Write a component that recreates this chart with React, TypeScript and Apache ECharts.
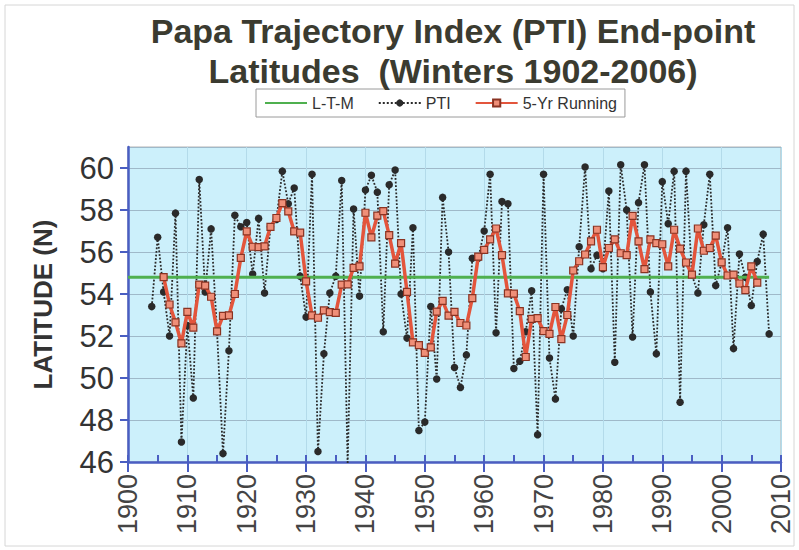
import React, { useEffect, useRef } from "react";
import * as echarts from "echarts";

const TITLE = "Papa Trajectory Index (PTI) End-point\nLatitudes  (Winters 1902-2006)";
const Y_NAME = "LATITUDE (N)";

const PTI_START_YEAR = 1904;
const PTI_VALUES = [
  53.4, 56.7, 54.1, 52.0, 57.85, 46.95, 52.5, 49.05, 59.45, 54.1,
  57.1, 52.2, 46.4, 51.3, 57.75, 57.2, 57.4, 54.95, 57.6, 54.05,
  57.2, 57.55, 59.85, 58.3, 59.05, 54.85, 52.9, 59.7, 46.5, 51.15,
  54.05, 54.85, 59.4, 45.9, 58.05, 53.9, 58.95, 59.65, 58.85, 52.2,
  59.2, 59.9, 54.0, 51.9, 57.15, 47.5, 47.9, 53.4, 49.95, 58.6,
  56.0, 50.5, 49.55, 51.1, 55.7, 55.7, 57.0, 59.7, 52.15, 58.4,
  58.3, 50.45, 50.8, 52.2, 54.15, 47.3, 59.7, 50.95, 49.0, 53.3,
  54.2, 52.0, 56.25, 60.05, 55.2, 55.85, 55.2, 58.9, 50.75, 60.15,
  58.0, 51.95, 58.35, 60.15, 54.1, 51.15, 59.35, 57.35, 59.85, 48.85,
  59.85, 54.9, 54.05, 57.3, 59.7, 54.4, 55.5, 57.15, 51.4, 55.9,
  54.8, 53.45, 55.55, 56.85, 52.1,
];

const RUN_START_YEAR = 1906;
const RUN_VALUES = [
  54.8, 53.5, 52.65, 51.65, 53.15, 52.4, 54.45, 54.4, 53.87, 52.22,
  52.96, 52.98, 54.0, 55.72, 56.98, 56.25, 56.23, 56.27, 57.2, 57.62,
  58.33, 57.93, 56.98, 56.92, 54.6, 52.98, 52.87, 53.22, 53.14, 53.1,
  54.45, 54.46, 55.24, 55.32, 57.87, 56.7, 57.73, 57.95, 56.8, 55.45,
  56.42, 54.1, 51.7, 51.57, 51.2, 51.46, 53.16, 53.67, 52.97, 53.15,
  52.62, 52.5, 53.8, 55.78, 56.1, 56.6, 57.12, 55.85, 54.03, 54.02,
  53.18, 51.0, 52.82, 52.85, 52.23, 52.1, 53.38, 51.85, 53.0, 55.12,
  55.56, 55.88, 56.51, 57.06, 55.28, 56.19, 56.6, 55.94, 55.85, 57.72,
  56.51, 55.18, 56.6, 56.42, 56.37, 55.32, 57.06, 56.16, 55.5, 54.92,
  57.12, 56.06, 56.19, 56.78, 55.51, 54.88, 54.92, 54.5, 54.18, 55.32,
  54.54,
];

const LTM_YEARS = [1900, 2008];
const LTM_VALUES = [54.8, 54.8];

const AXIS_BLUE = "#4a5ec2";
const GREEN = "#4fb04f";

export default function App() {
  const ref = useRef<HTMLDivElement>(null);
  useEffect(() => {
    if (!ref.current) return;
    const chart = echarts.init(ref.current, undefined, { renderer: "svg" });
    const ptiData = PTI_VALUES.map((v, i) => [PTI_START_YEAR + i, v]);
    const runData = RUN_VALUES.map((v, i) => [RUN_START_YEAR + i, v]);
    const ltmData = LTM_VALUES.map((v, i) => [LTM_YEARS[i], v]);
    chart.setOption({
      animation: false,
      backgroundColor: "#ffffff",
      title: {
        text: TITLE,
        left: 448,
        top: 6,
        textAlign: "center",
        textStyle: {
          fontFamily: "Liberation Sans, Arial, sans-serif",
          fontSize: 34,
          fontWeight: "bold",
          color: "#3b3b30",
          lineHeight: 40,
        },
      },
      legend: {
        left: 256,
        top: 89,
        padding: [6, 8],
        itemGap: 24,
        itemWidth: 42,
        itemHeight: 9,
        borderColor: "#9a9a9a",
        borderWidth: 1,
        backgroundColor: "#ffffff",
        textStyle: {
          fontFamily: "Liberation Sans, Arial, sans-serif",
          fontSize: 16,
          color: "#333",
        },
        data: [
          {
            name: "L-T-M",
            itemStyle: { color: "rgba(0,0,0,0)", borderWidth: 0, opacity: 0 },
          },
          { name: "PTI" },
          { name: "5-Yr Running" },
        ],
      },
      graphic: [
        {
          type: "rect",
          shape: { x: 5, y: 5, width: 789, height: 541 },
          style: { fill: "none", stroke: "#d6d6d6", lineWidth: 1 },
          silent: true,
          z: -10,
        },
      ],
      grid: {
        left: 128,
        right: 18,
        top: 147,
        bottom: 88,
        show: true,
        backgroundColor: "#ccf0fb",
        borderColor: "#b4b4b4",
        borderWidth: 1,
      },
      xAxis: [
        {
          type: "value",
          min: 1900,
          max: 2010,
          interval: 5,
          axisLine: { show: true, lineStyle: { color: AXIS_BLUE, width: 2.5 } },
          axisTick: { show: true, inside: true, length: 7, lineStyle: { color: AXIS_BLUE, width: 2 } },
          axisLabel: { show: false },
          splitLine: { show: false },
        },
        {
          type: "value",
          min: 1900,
          max: 2010,
          interval: 10,
          position: "bottom",
          axisLine: { show: false },
          axisTick: { show: true, inside: false, length: 10, lineStyle: { color: AXIS_BLUE, width: 2 } },
          axisLabel: {
            rotate: 90,
            margin: 12,
            fontSize: 27,
            color: "#444",
            fontFamily: "Liberation Sans, Arial, sans-serif",
            formatter: (v: number) => String(v),
          },
          splitLine: { show: true, lineStyle: { color: "#b3dbea", width: 1 } },
        },
      ],
      yAxis: {
        type: "value",
        min: 46,
        max: 61,
        interval: 2,
        name: Y_NAME,
        nameLocation: "middle",
        nameGap: 72,
        nameRotate: 90,
        nameTextStyle: {
          fontFamily: "Liberation Sans, Arial, sans-serif",
          fontSize: 26,
          fontWeight: "bold",
          color: "#333",
        },
        axisLine: { show: true, lineStyle: { color: AXIS_BLUE, width: 2.5 } },
        axisTick: { show: true, inside: false, length: 8, lineStyle: { color: AXIS_BLUE, width: 2 } },
        axisLabel: {
          margin: 14,
          fontSize: 31,
          color: "#333",
          fontFamily: "Liberation Sans, Arial, sans-serif",
          showMaxLabel: false,
          formatter: (v: number) => (v > 60 ? "" : String(v)),
        },
        splitLine: { show: true, lineStyle: { color: "#9fb9c9", width: 1 } },
      },
      series: [
        {
          name: "PTI",
          type: "line",
          data: ptiData,
          xAxisIndex: 0,
          symbol: "circle",
          symbolSize: 7.5,
          showAllSymbol: true,
          itemStyle: { color: "#2a2a2a" },
          lineStyle: { color: "#2a2a2a", width: 1.8, type: "dotted" },
          z: 2,
        },
        {
          name: "L-T-M",
          type: "line",
          data: ltmData,
          xAxisIndex: 0,
          symbol: "none",
          itemStyle: { color: GREEN },
          lineStyle: { color: GREEN, width: 3 },
          z: 3,
        },
        {
          name: "5-Yr Running",
          type: "line",
          data: runData,
          xAxisIndex: 0,
          symbol: "rect",
          symbolSize: 7,
          showAllSymbol: true,
          itemStyle: { color: "#ef8f78", borderColor: "#8a3322", borderWidth: 1.2 },
          lineStyle: { color: "#e3553c", width: 3.5 },
          z: 4,
        },
      ],
    });
    return () => chart.dispose();
  }, []);
  return (
    <div
      ref={ref}
      style={{ position: "absolute", left: 0, top: 0, width: 799, height: 550 }}
    />
  );
}
